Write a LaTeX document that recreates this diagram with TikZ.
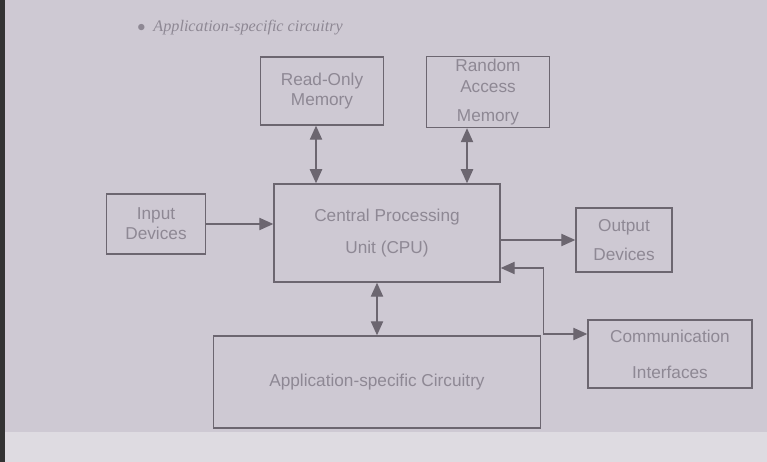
\documentclass[tikz,border=0pt]{standalone}
\usepackage{fontspec}
\setmainfont{Liberation Sans}
\newfontfamily\bookfont{Liberation Serif}
\usetikzlibrary{arrows.meta}

\definecolor{page}{RGB}{206,201,211}
\definecolor{pagelow}{RGB}{222,219,225}
\definecolor{ink}{RGB}{108,102,112}
\definecolor{faint}{RGB}{142,136,148}

\begin{document}
\begin{tikzpicture}
    [x=0.02cm,y=-0.02cm,inner sep=0pt,
     font=\fontsize{9.8}{11.5}\selectfont,
     block/.style={draw=ink,line width=0.8pt,text=faint,align=center},
     link/.style={draw=ink,line width=0.8pt,-{Triangle[length=8pt,width=7pt]}},
     dlink/.style={draw=ink,line width=0.8pt,{Triangle[length=8pt,width=7pt]}-{Triangle[length=8pt,width=7pt]}}]

    % page:
    \fill [page] (0,0) rectangle (767,462);
    \fill [pagelow] (0,432) rectangle (767,462);
    \fill [black!80] (0,0) rectangle (5,462);
    \useasboundingbox (0,0) rectangle (767,462);

    % heading line of the page:
    \node (heading) at (240,28) [text=faint,font=\bookfont\itshape\fontsize{9.2}{11}\selectfont]
      {$\bullet$\ \ Application-specific circuitry};

    % memories:
    \node (rom) at (322,91) [block,minimum width=2.46cm,minimum height=1.36cm] {Read-Only\\Memory};
    \node (ram) at (488,92) [block,minimum width=2.46cm,minimum height=1.42cm] {Random\\Access\\[5pt]Memory};

    % processor and devices:
    \node (input) at (156,224) [block,minimum width=1.98cm,minimum height=1.2cm] {Input\\Devices};
    \node (cpu) at (387,233) [block,minimum width=4.52cm,minimum height=1.96cm] {Central Processing\\[7pt]Unit (CPU)};
    \node (output) at (624,240) [block,minimum width=1.92cm,minimum height=1.28cm] {Output\\[5pt]Devices};
    \node (comm) at (670,354) [block,minimum width=3.28cm,minimum height=1.36cm] {Communication\\[9pt]Interfaces};
    \node (app) at (377,382) [block,minimum width=6.54cm,minimum height=1.84cm] {Application-specific Circuitry};

    % ports:
    \coordinate (romport) at ([xshift=-0.12cm]rom.south);
    \coordinate (ramport) at ([xshift=-0.42cm]ram.south);
    \coordinate (cpuport) at ([yshift=-0.7cm]cpu.east);
    \coordinate (commport) at ([yshift=0.4cm]comm.west);

    % connect nodes:
    \draw [dlink] (romport) -- (romport |- cpu.north);
    \draw [dlink] (ramport) -- (ramport |- cpu.north);
    \draw [link] (input.east) -- (input.east -| cpu.west);
    \draw [link] (cpu.east |- output.west) -- (output.west);
    \draw [dlink] (cpuport) -- ++(43,0) |- (commport);
    \draw [dlink] (app.north) -- (app.north |- cpu.south);

  \end{tikzpicture}
\end{document}
